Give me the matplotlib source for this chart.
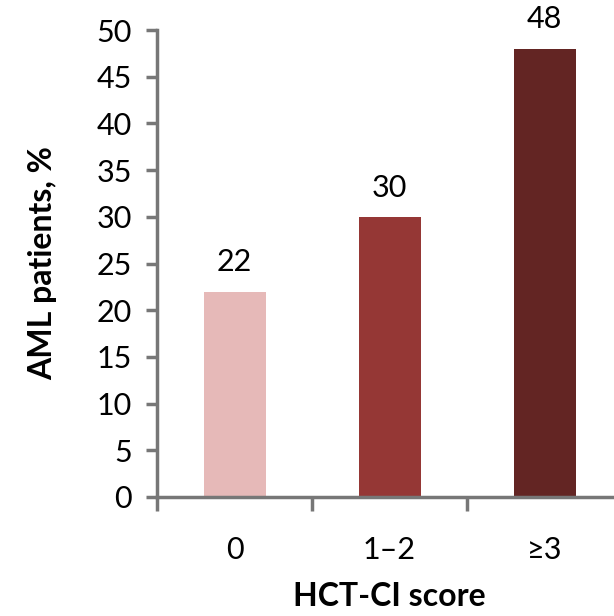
import matplotlib.pyplot as plt
import numpy as np
from matplotlib.ticker import FixedLocator

plt.rcParams['font.family'] = ['Lato', 'DejaVu Sans']

categories = ['0', '1\u20132', '\u22653']
values = [22, 30, 48]
colors = ['#E6B9B8', '#953735', '#632523']

fig = plt.figure(figsize=(6.14, 6.16), dpi=100)
ax = fig.add_axes([157/614, 119/616, 465/614, 467/616])

x = np.arange(len(categories))
ax.bar(x, values, width=0.4, color=colors, zorder=2)

for xi, v in zip(x, values):
    ax.annotate(str(v), (xi, v), xytext=(0, 11), textcoords='offset points',
                ha='center', va='bottom', fontsize=22, annotation_clip=False)

ax.set_xlim(-0.5, 2.5)
ax.set_ylim(0, 50)
ax.set_yticks(np.arange(0, 51, 5))

# ticks between categories, labels at centres
ax.xaxis.set_major_locator(FixedLocator([-0.5, 0.5, 1.5, 2.5]))
ax.xaxis.set_minor_locator(FixedLocator(x))
ax.set_xticklabels([], minor=False)
ax.set_xticklabels(categories, minor=True)

grey = '#777777'
for s in ['top', 'right']:
    ax.spines[s].set_visible(False)
for s in ['left', 'bottom']:
    ax.spines[s].set_color(grey)
    ax.spines[s].set_linewidth(2.5)

ax.tick_params(axis='y', which='major', length=8, width=2.5, color=grey,
               labelsize=22, pad=10)
ax.tick_params(axis='x', which='major', length=10, width=2.5, color=grey)
ax.tick_params(axis='x', which='minor', length=0, labelsize=22, pad=28)

ax.set_ylabel('AML patients, %', fontsize=23, fontweight='bold', labelpad=28)
ax.set_xlabel('HCT-CI score', fontsize=23, fontweight='bold', labelpad=13)

fig.savefig('out.png', dpi=100)
